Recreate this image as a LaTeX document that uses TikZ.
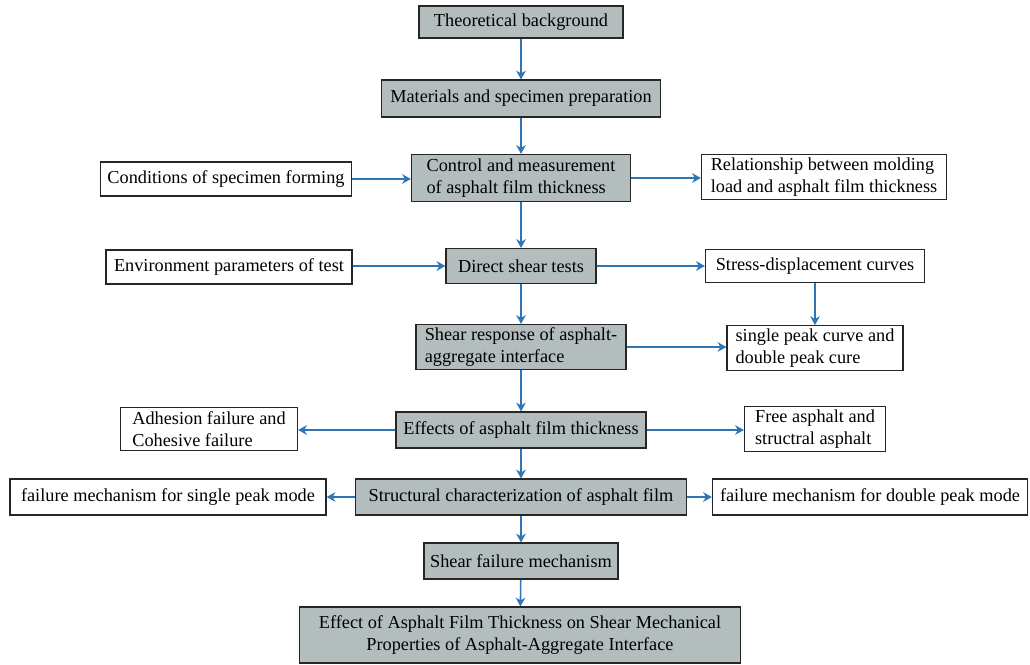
\documentclass[tikz,border=0pt]{standalone}
\usepackage{fontspec}
\setmainfont{Liberation Serif}
\usetikzlibrary{arrows.meta, positioning}
\definecolor{boxgray}{RGB}{180,189,189}
\definecolor{flowblue}{RGB}{46,117,182}
\tikzset{%
>={Stealth[width=2.4mm,length=2.2mm,inset=0.7mm]},
  % Specifications for style of nodes:
            mainbox/.style = {rectangle, draw=black!85, fill=boxgray,
                            line width=0.8pt, inner sep=2pt,
                            font=\rmfamily\fontsize{13}{16}\selectfont},
            sidebox/.style = {rectangle, draw=black!85, fill=white,
                            line width=0.8pt, inner sep=2pt,
                            font=\rmfamily\fontsize{13}{16}\selectfont},
            flow/.style = {->, draw=flowblue, line width=1.1pt}
}

\begin{document}
\begin{tikzpicture}[x=0.025cm, y=-0.025cm, align=left]
                        \useasboundingbox (0,0) rectangle (1030,664);
                        % main column
                        \node[mainbox, minimum width=5.1cm, minimum height=0.8cm] (theory) at (521,22) {Theoretical background};
                        \node[mainbox, minimum width=6.975cm, minimum height=0.925cm] (materials) at (521,98.5) {Materials and specimen preparation};
                        \node[mainbox, minimum width=5.475cm, minimum height=1.175cm] (control) at (521,178) {Control and measurement\\of asphalt film thickness};
                        \node[mainbox, minimum width=3.75cm, minimum height=0.875cm] (direct) at (521,266) {Direct shear tests};
                        \node[mainbox, minimum width=5.25cm, minimum height=1.125cm] (response) at (521,347) {Shear response of asphalt-\\aggregate interface};
                        \node[mainbox, minimum width=6.25cm, minimum height=0.9cm] (effects) at (521,430) {Effects of asphalt film thickness};
                        \node[mainbox, minimum width=8.275cm, minimum height=0.9cm] (structure) at (521,497) {Structural characterization of asphalt film};
                        \node[mainbox, minimum width=4.85cm, minimum height=0.9cm] (mechanism) at (521,561) {Shear failure mechanism};
                        \node[mainbox, align=center, minimum width=11.025cm, minimum height=1.4cm] (effect) at (520,635) {Effect of Asphalt Film Thickness on Shear Mechanical\\Properties of Asphalt-Aggregate Interface};
                        % side boxes
                        \node[sidebox, minimum width=6.275cm, minimum height=0.85cm] (forming) at (226,179) {Conditions of specimen forming};
                        \node[sidebox, minimum width=6.125cm, minimum height=1.1cm] (relation) at (824,177) {Relationship between molding\\load and asphalt film thickness};
                        \node[sidebox, minimum width=6.15cm, minimum height=0.85cm] (environ) at (229,267) {Environment parameters of test};
                        \node[sidebox, minimum width=5.475cm, minimum height=0.825cm] (curves) at (815,266) {Stress-displacement curves};
                        \node[sidebox, minimum width=4.4cm, minimum height=1.075cm] (peak) at (815,348) {single peak curve and\\double peak cure};
                        \node[sidebox, minimum width=4.425cm, minimum height=1.075cm] (adhesion) at (209,429) {Adhesion failure and\\Cohesive failure};
                        \node[sidebox, minimum width=3.525cm, minimum height=1.05cm] (free) at (815,429) {Free asphalt and\\structral asphalt};
                        \node[sidebox, minimum width=7.9cm, minimum height=0.9cm] (single) at (168,497) {failure mechanism for single peak mode};
                        \node[sidebox, minimum width=7.875cm, minimum height=0.9cm] (double) at (870,497) {failure mechanism for double peak mode};
                        % connectors
                        \draw[flow] (theory) -- (materials);
                        \draw[flow] (materials) -- (control);
                        \draw[flow] (control) -- (direct);
                        \draw[flow] (direct) -- (response);
                        \draw[flow] (response) -- (effects);
                        \draw[flow] (effects) -- (structure);
                        \draw[flow] (structure) -- (mechanism);
                        \draw[flow] (mechanism) -- (effect);
                        \draw[flow] (forming) -- (control.west |- forming);
                        \draw[flow] (control) -- (relation.west |- control);
                        \draw[flow] (environ.east |- direct) -- (direct);
                        \draw[flow] (direct) -- (curves);
                        \draw[flow] (curves) -- (peak);
                        \draw[flow] (response) -- (peak.west |- response);
                        \draw[flow] (effects) -- (adhesion.east |- effects);
                        \draw[flow] (effects) -- (free.west |- effects);
                        \draw[flow] (structure) -- (single);
                        \draw[flow] (structure) -- (double);
                    \end{tikzpicture}
\end{document}
